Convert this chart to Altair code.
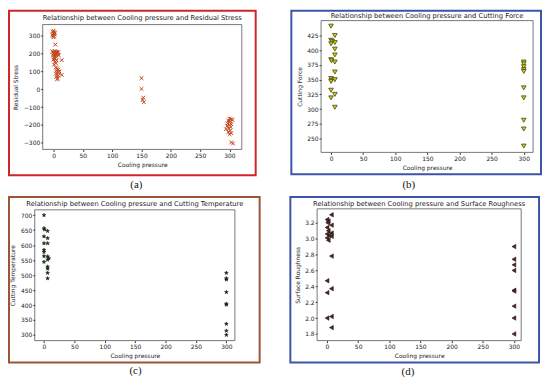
import altair as alt
import pandas as pd

X_TICKS = [0, 50, 100, 150, 200, 250, 300]

# (a) Residual Stress
a_x = [0, -1, 1, 0, 2, -1, 1, 0, 2, -2,
       3,
       -2, 0, 2, 4, 6, 8, 0, 3, 5, 7, -1, 2, 4, 1, 3, 0, 5, 2, 4, 1, 9, 6,
       14,
       4, 6, 8, 5, 7, 9, 4, 6, 8, 5, 7, 6, 10,
       14,
       150, 150, 153, 152, 154,
       300, 303, 305, 298, 302, 300, 297, 303, 300, 296, 302, 299, 294, 301, 298, 303, 300, 303, 306]
a_y = [328, 322, 318, 312, 306, 300, 296, 291, 314, 305,
       250,
       212, 208, 214, 209, 204, 207, 200, 197, 193, 198, 189, 186, 182, 176, 171, 166, 160, 152, 145, 138, 190, 210,
       163,
       122, 116, 110, 104, 98, 94, 88, 82, 76, 70, 62, 55, 100,
       80,
       62, 2, -47, -60, -73,
       -165, -168, -172, -176, -181, -186, -191, -196, -201, -206, -212, -220, -224, -232, -240, -246, -252, -298, -304]

# (b) Cutting Force
b_x = [0, 6, 0, 2, 6, 0, 6, 6, 0, 1, 6, 6, 0, 1, 6, 0, 0, 6, 0, 6,
       300, 300, 300, 300, 300, 300, 300, 300, 300, 300]
b_y = [441, 425, 417, 415, 413, 411, 402, 392, 384, 382, 380, 363, 352, 349, 350, 347, 332, 325, 319, 303,
       380, 377, 372, 367, 364, 336, 319, 281, 266, 237]

# (c) Cutting Temperature
c_x = [0, 0, 1, 6, 0, 6, 0, 6, 0, 0, 6, 8, 6, 0, 0, 6, 6, 6, 6,
       300, 300, 300, 300, 300, 300, 300, 300, 300]
c_y = [700, 656, 652, 647, 629, 623, 606, 606, 584, 577, 562, 556, 551, 563, 544, 528, 521, 507, 489,
       507, 489, 485, 443, 404, 401, 337, 314, 300]

# (d) Surface Roughness
d_x = [7, 0, 2, 1, 7, 0, 2, 7, 0, 3, 7, 0, 2, 7, 0, 7, 0, 0, 7, 7,
       300, 300, 300, 300, 300, 300, 300, 300, 300]
d_y = [3.30, 3.24, 3.22, 3.20, 3.17, 3.14, 3.10, 3.07, 3.06, 3.04, 3.03, 3.01, 2.98, 2.78, 2.47, 2.37, 2.32, 2.00, 2.02, 1.88,
       2.90, 2.74, 2.67, 2.60, 2.35, 2.34, 2.15, 2.00, 1.80]

STAR = "M0,-1L0.235,-0.324L0.951,-0.309L0.380,0.124L0.588,0.809L0,0.4L-0.588,0.809L-0.380,0.124L-0.951,-0.309L-0.235,-0.324Z"
XMARK = "M-1,-1L1,1M-1,1L1,-1"

one = pd.DataFrame({"k": [0]})


def panel(xs, ys, box, xdom, ydom, yticks, yfmt, ytitle, ttl, tpos, mark_kw, fbox, cap, cpos, fcolor):
    # box = (left, right, top, bottom) of the axes rectangle inside the view
    x0, x1, y0, y1 = box
    df = pd.DataFrame({"x": xs, "y": ys})
    pts = alt.Chart(df).mark_point(opacity=1, **mark_kw).encode(
        x=alt.X("x:Q", scale=alt.Scale(domain=xdom, nice=False, zero=False, range=[x0, x1]),
                axis=alt.Axis(values=X_TICKS, title="Cooling pressure", titleX=(x0 + x1) / 2)),
        y=alt.Y("y:Q", scale=alt.Scale(domain=ydom, nice=False, zero=False, range=[y1, y0]),
                axis=alt.Axis(values=yticks, title=ytitle, format=yfmt, offset=-x0,
                              titleY=(y0 + y1) / 2)),
    )
    axes_box = alt.Chart(one).mark_rect(filled=False, stroke="#555", strokeWidth=0.8).encode(
        x=alt.value(x0), x2=alt.value(x1), y=alt.value(y0), y2=alt.value(y1)
    )
    frame = alt.Chart(one).mark_rect(filled=False, stroke=fcolor, strokeWidth=2, clip=False).encode(
        x=alt.value(fbox[0]), x2=alt.value(fbox[1]), y=alt.value(fbox[2]), y2=alt.value(fbox[3])
    )
    title = alt.Chart(one).mark_text(
        text=ttl, font="DejaVu Sans", fontSize=6.8, baseline="middle", align="center", color="#222"
    ).encode(x=alt.value(tpos[0]), y=alt.value(tpos[1]))
    caption = alt.Chart(one).mark_text(
        text=cap, font="Liberation Serif", fontSize=11, baseline="middle", align="center", color="#111"
    ).encode(x=alt.value(cpos[0]), y=alt.value(cpos[1]))
    return alt.layer(frame, pts, axes_box, title, caption).properties(width=x1, height=y1)


pa = panel(a_x, a_y, (8, 209, 4, 130), [-18.5, 321], [-337, 362], [-300, -200, -100, 0, 100, 200, 300], "d",
           "Residual Stress", "Relationship between Cooling pressure and Residual Stress", (108.5, -3),
           dict(shape=XMARK, filled=False, color="#c1441a", strokeWidth=1, size=14),
           (-26, 223, -10, 156), "(a)", (102.5, 166), "#d0252b")
pb = panel(b_x, b_y, (4, 218, 0, 133), [-15.5, 314.5], [226.3, 450.4], [250, 275, 300, 325, 350, 375, 400, 425], "d",
           "Cutting Force", "Relationship between Cooling pressure and Cutting Force", (111, -5),
           dict(shape="triangle-down", filled=True, fill="#c8cc22", stroke="#4a4a10", strokeWidth=0.8, size=22),
           (-26, 226, -10, 155), "(b)", (92.5, 166), "#3d55a6")
pc = panel(c_x, c_y, (0, 202, 1, 133), [-15.2, 314], [281.2, 717.7], [300, 350, 400, 450, 500, 550, 600, 650, 700], "d",
           "Cutting Temperature", "Relationship between Cooling pressure and Cutting Temperature", (101, -4.7),
           dict(shape=STAR, filled=True, fill="#142414", stroke="#142414", strokeWidth=0.5, size=16),
           (-26, 227, -12, 155), "(c)", (101.7, 163.7), "#9a5535")
pd_ = panel(d_x, d_y, (0, 206, 0, 133), [-15.9, 311.7], [1.716, 3.375], [1.8, 2.0, 2.2, 2.4, 2.6, 2.8, 3.0, 3.2], ".1f",
            "Surface Roughness", "Relationship between Cooling pressure and Surface Roughness", (103, -4.7),
            dict(shape="triangle-left", filled=True, fill="#5a1c1c", stroke="#222", strokeWidth=0.6, size=20),
            (-27, 224, -12, 155), "(d)", (91.7, 164.7), "#3d55a6")

chart = alt.concat(
    pa, pb, pc, pd_, columns=2, spacing={"row": 6, "column": 29},
).properties(padding=0).configure_view(
    strokeOpacity=0
).configure_axis(
    labelFont="DejaVu Sans", labelFontSize=6, labelColor="#222",
    titleFont="DejaVu Sans", titleFontSize=6, titleFontWeight="normal", titleColor="#222",
    tickSize=2, tickColor="#333", labelPadding=1, titlePadding=3,
    domain=False, grid=False,
).configure_axisY(titlePadding=4.5)

chart.save("out.html", embed_options={"renderer": "svg", "actions": False})
